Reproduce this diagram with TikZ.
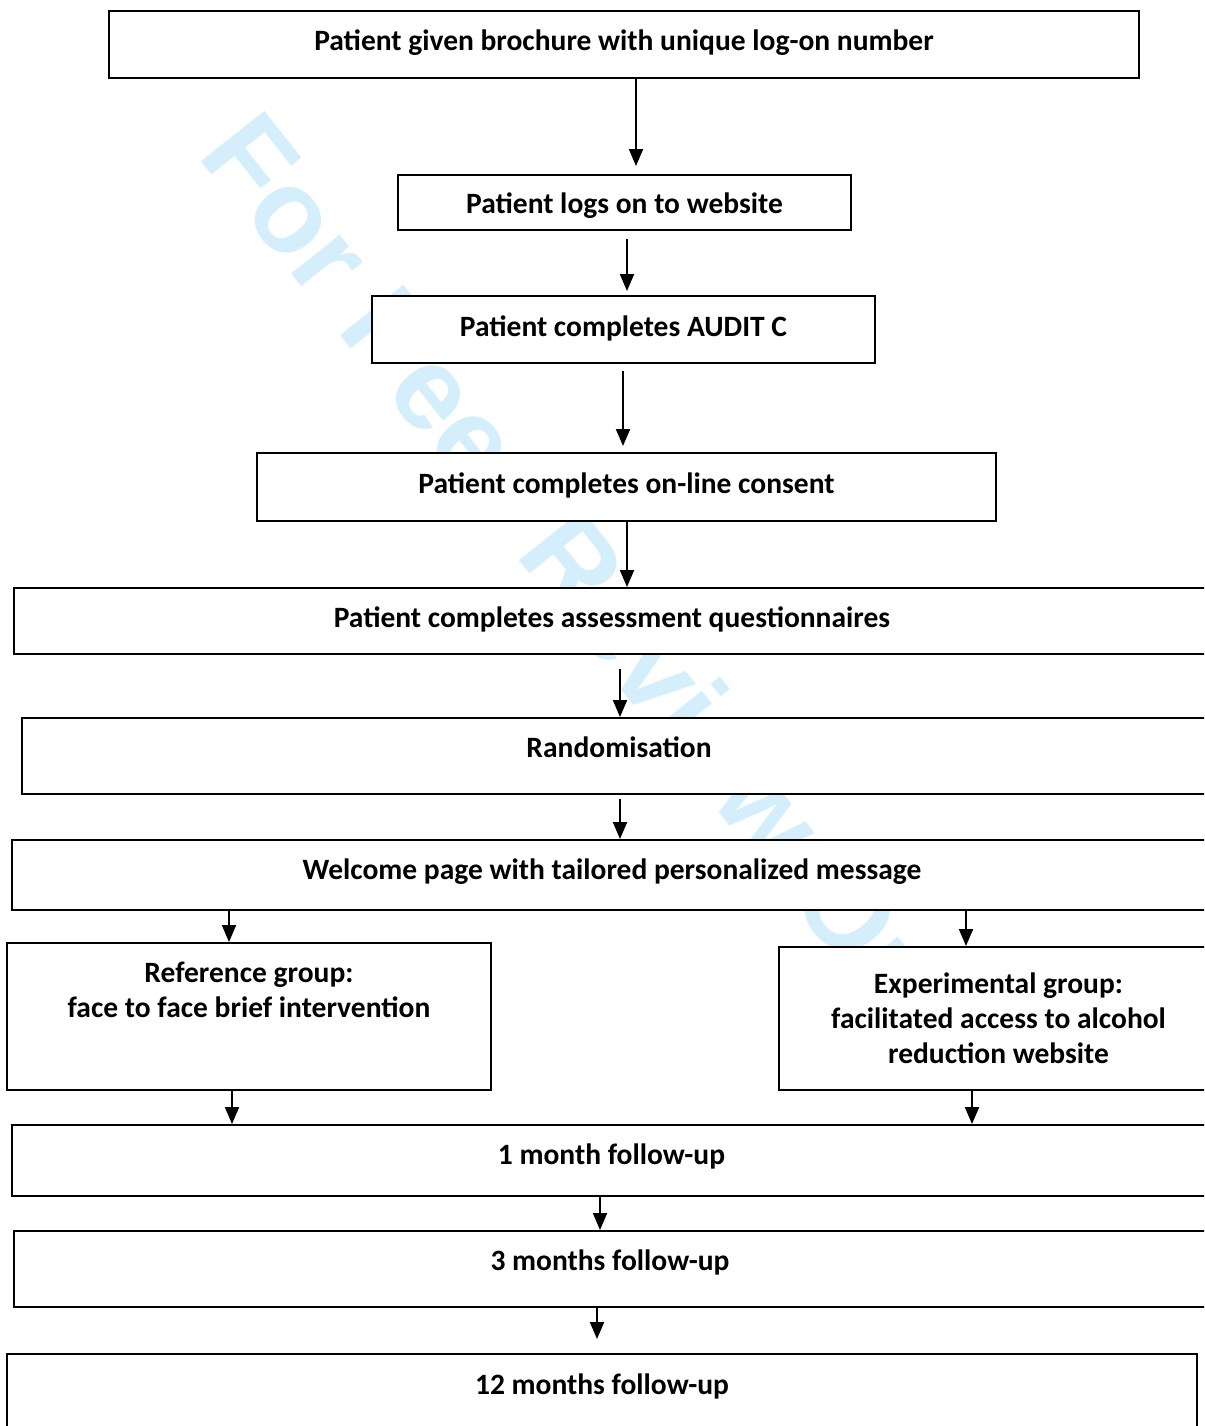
\documentclass[tikz,border=0pt]{standalone}
\usepackage{fontspec}
\setmainfont{Carlito}
\newfontfamily\reviewfont{Liberation Sans}
\usepackage{xcolor}
\usetikzlibrary{arrows.meta}
\definecolor{reviewblue}{RGB}{212,239,251}
\newcommand{\pxu}{0.02cm}
\tikzset{
box/.style={draw, line width=1.1pt, fill=white, inner sep=0pt, align=center, font=\fontsize{16.8}{20}\selectfont\bfseries},
stage/.style={box, text height=30*\pxu},
group/.style={box},
flow/.style={-{Triangle[length=0.34cm,width=0.28cm]}, line width=1.1pt}
}
\begin{document}
\begin{tikzpicture}[x=\pxu, y=-\pxu]
\useasboundingbox (0,0) rectangle (1204,1426);
\clip (0,0) rectangle (1204,1426);
% watermark
\node[anchor=base west, rotate=-51.5, text=reviewblue, inner sep=0pt, font=\reviewfont\fontsize{67}{67}\selectfont\bfseries] (watermark) at (196.5,155) {For Peer Review Only};
% stages
\node[stage, minimum width=1030*\pxu, minimum height=67*\pxu, text depth=17*\pxu] (brochure) at (624,44.5) {Patient given brochure with unique log-on number};
\node[stage, minimum width=453*\pxu, minimum height=55*\pxu, text depth=9*\pxu] (logon) at (624.5,202.5) {Patient logs on to website};
\node[stage, minimum width=503*\pxu, minimum height=67*\pxu, text depth=17*\pxu] (audit) at (623.5,329.5) {Patient completes AUDIT C};
\node[stage, minimum width=739*\pxu, minimum height=68*\pxu, text depth=18*\pxu] (consent) at (626.5,487) {Patient completes on-line consent};
\node[stage, minimum width=1196*\pxu, minimum height=66*\pxu, text depth=18*\pxu] (assess) at (612,621) {Patient completes assessment questionnaires};
\node[stage, minimum width=1194*\pxu, minimum height=76*\pxu, text depth=28*\pxu] (random) at (619,756) {Randomisation};
\node[stage, minimum width=1200*\pxu, minimum height=70*\pxu, text depth=22*\pxu] (welcome) at (612,875) {Welcome page with tailored personalized message};
\node[group, minimum width=484*\pxu, minimum height=147*\pxu] (reference) at (249,1016.5) {Reference group:\\face to face brief intervention\\[0.38cm]~};
\node[group, minimum width=439*\pxu, minimum height=143*\pxu] (experimental) at (998.5,1018.5) {Experimental group:\\facilitated access to alcohol\\reduction website};
\node[stage, minimum width=1199*\pxu, minimum height=71*\pxu, text depth=23*\pxu] (month1) at (611.5,1160.5) {1 month follow-up};
\node[stage, minimum width=1192*\pxu, minimum height=76*\pxu, text depth=28*\pxu] (month3) at (610,1269) {3 months follow-up};
\node[stage, minimum width=1190*\pxu, minimum height=82*\pxu, text depth=32*\pxu] (month12) at (602,1395) {12 months follow-up};
% arrows
\draw[flow, shorten >=0.16cm] (brochure.south -| 636,0) -- (logon.north -| 636,0);
\draw[flow, shorten <=0.16cm, shorten >=0.08cm] (logon.south -| 627,0) -- (audit.north -| 627,0);
\draw[flow, shorten <=0.14cm, shorten >=0.12cm] (audit.south -| 623,0) -- (consent.north -| 623,0);
\draw[flow] (consent.south -| 627,0) -- (assess.north -| 627,0);
\draw[flow, shorten <=0.28cm] (assess.south -| 620,0) -- (random.north -| 620,0);
\draw[flow, shorten <=0.08cm] (random.south -| 620,0) -- (welcome.north -| 620,0);
\draw[flow] (welcome.south -| 229,0) -- (reference.north -| 229,0);
\draw[flow] (welcome.south -| 966,0) -- (experimental.north -| 966,0);
\draw[flow] (reference.south -| 232,0) -- (month1.north -| 232,0);
\draw[flow] (experimental.south -| 972,0) -- (month1.north -| 972,0);
\draw[flow] (month1.south -| 600,0) -- (month3.north -| 600,0);
\draw[flow, shorten >=0.28cm] (month3.south -| 597,0) -- (month12.north -| 597,0);
\end{tikzpicture}
\end{document}
